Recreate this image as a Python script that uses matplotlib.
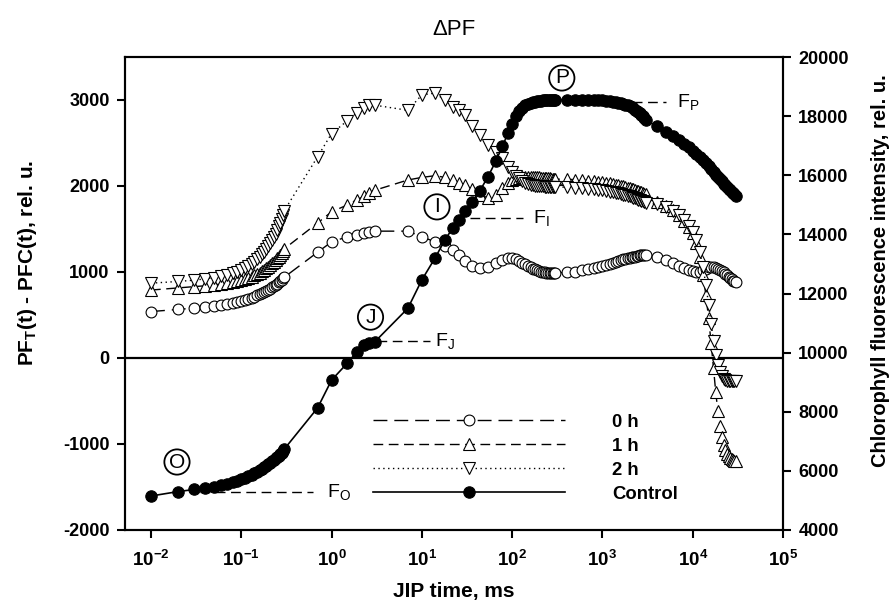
import numpy as np
import matplotlib.pyplot as plt
from matplotlib.lines import Line2D

plt.rcParams['font.family'] = ['Liberation Sans', 'DejaVu Sans']
plt.rcParams['mathtext.fontset'] = 'custom'
plt.rcParams['mathtext.rm'] = 'Liberation Sans'
plt.rcParams['mathtext.bf'] = 'Liberation Sans:bold'
plt.rcParams['mathtext.it'] = 'Liberation Sans:italic'

# JIP time points, ms
t_ms = [0.01, 0.02, 0.03, 0.04, 0.05, 0.06, 0.07, 0.08, 0.09, 0.10,
        0.11, 0.12, 0.13, 0.14, 0.15, 0.16, 0.17, 0.18, 0.19, 0.20,
        0.21, 0.22, 0.23, 0.24, 0.25, 0.26, 0.27, 0.28, 0.29, 0.30,
        0.7, 1.0, 1.5, 1.9, 2.3, 2.6, 3.0,
        7,
        10, 14, 18, 22, 26, 30, 36, 44, 54, 66, 78, 90,
        100, 110, 120, 130, 140, 150, 160, 170, 180, 190, 200,
        210, 220, 230, 240, 250, 260, 270, 280, 290, 300,
        400, 500, 600, 700, 800, 900, 1000, 1100, 1200, 1300, 1400,
        1500, 1600, 1700, 1800, 1900, 2000, 2100, 2200, 2300, 2400,
        2500, 2600, 2700, 2800, 2900, 3000,
        4000, 5000, 6000, 7000, 8000, 9000, 10000, 11000, 12000, 13000,
        14000, 15000, 16000, 17000, 18000, 19000, 20000, 21000, 22000,
        23000, 24000, 25000, 26000, 27000, 28000, 29000, 30000]

# delta PF (treated - control), rel. u.
dpf_0h = [540, 565, 580, 595, 605, 620, 630, 645, 655, 665,
          678, 690, 703, 715, 728, 740, 753, 766, 780, 793,
          807, 820, 835, 850, 865, 880, 895, 910, 925, 940,
          1230, 1350, 1410, 1430, 1450, 1465, 1475,
          1475,
          1410, 1350, 1300, 1255, 1200, 1130, 1070, 1045, 1060, 1100, 1140, 1160,
          1160, 1150, 1130, 1110, 1090, 1070, 1055, 1040, 1030, 1020, 1012,
          1005, 1000, 995, 992, 990, 990, 990, 990, 990, 990,
          995, 1000, 1020, 1030, 1045, 1055, 1068, 1080, 1095, 1108, 1120,
          1130, 1140, 1148, 1155, 1162, 1168, 1172, 1176, 1180, 1184,
          1188, 1192, 1196, 1200, 1200, 1198,
          1170, 1140, 1100, 1075, 1050, 1025, 1010, 1000, 1005, 1020,
          1040, 1055, 1060, 1058, 1050, 1040, 1025, 1010, 995,
          980, 960, 945, 930, 915, 900, 890, 880]

dpf_1h = [790, 815, 830, 840, 850, 860, 870, 880, 893, 905,
          918, 932, 947, 962, 978, 994, 1010, 1027, 1044, 1062,
          1080, 1099, 1118, 1138, 1158, 1178, 1199, 1220, 1245, 1270,
          1570, 1700, 1780, 1840, 1880, 1920, 1950,
          2070,
          2100, 2120, 2100, 2070, 2040, 2010, 1960, 1900, 1860, 1900, 1980, 2040,
          2070, 2085, 2095, 2100, 2100, 2100, 2100, 2100, 2100, 2100, 2100,
          2098, 2096, 2094, 2092, 2090, 2088, 2086, 2084, 2082, 2080,
          2078, 2074, 2068, 2062, 2056, 2050, 2044, 2038, 2031, 2024, 2017,
          2010, 2003, 1996, 1989, 1982, 1975, 1968, 1961, 1954, 1947,
          1940, 1933, 1926, 1919, 1912, 1905,
          1810, 1770, 1720, 1660, 1595, 1525, 1450, 1340, 1170, 970,
          730, 460, 170, -120, -400, -620, -790, -920, -1010,
          -1075, -1115, -1145, -1165, -1178, -1188, -1195, -1200]

dpf_2h = [870, 890, 905, 920, 935, 950, 968, 986, 1005, 1025,
          1047, 1070, 1095, 1120, 1147, 1175, 1205, 1235, 1267, 1300,
          1335, 1370, 1408, 1447, 1488, 1530, 1574, 1620, 1667, 1715,
          2340, 2610, 2760, 2850, 2910, 2940, 2940,
          2880,
          3060, 3080, 3000, 2920, 2880, 2830, 2700, 2590, 2480, 2400, 2320, 2220,
          2160, 2120, 2090, 2060, 2040, 2025, 2015, 2008, 2003, 2000, 1998,
          1996, 1995, 1994, 1993, 1992, 1991, 1990, 1990, 1990, 1990,
          1985, 1978, 1972, 1966, 1960, 1954, 1948, 1941, 1934, 1927, 1920,
          1913, 1906, 1899, 1892, 1885, 1878, 1871, 1864, 1857, 1850,
          1843, 1836, 1829, 1822, 1815, 1808,
          1790, 1760, 1715, 1660, 1600, 1535, 1465, 1370, 1230, 1060,
          850, 620, 400, 200, 40, -80, -160, -210, -240,
          -255, -262, -266, -268, -270, -271, -272, -273]

# control fluorescence transient, rel. u. (right axis)
fl_control = [5150, 5300, 5370, 5420, 5470, 5520, 5570, 5620, 5670, 5720,
              5770, 5820, 5870, 5920, 5970, 6020, 6070, 6120, 6170, 6220,
              6270, 6320, 6370, 6420, 6470, 6520, 6570, 6620, 6680, 6740,
              8130, 9070, 9650, 10020, 10260, 10330, 10360,
              11500,
              12460, 13200, 13810, 14220, 14500, 14780, 15100, 15480, 15950, 16480, 16980, 17420,
              17750, 18000, 18180, 18290, 18360, 18410, 18440, 18470, 18490, 18510, 18520,
              18525, 18530, 18535, 18540, 18545, 18550, 18552, 18554, 18556, 18558,
              18560, 18560, 18560, 18555, 18550, 18540, 18530, 18520, 18505, 18490, 18475,
              18460, 18440, 18415, 18390, 18360, 18330, 18295, 18260, 18220, 18180,
              18140, 18090, 18040, 17990, 17940, 17880,
              17650, 17470, 17320, 17190, 17070, 16950, 16830, 16720, 16610, 16500,
              16400, 16300, 16200, 16110, 16020, 15940, 15860, 15790, 15720,
              15660, 15600, 15550, 15500, 15450, 15400, 15350, 15300]

series_labels = ['0 h', '1 h', '2 h', 'Control']

x_ticks = [1e-2, 1e-1, 1e0, 1e1, 1e2, 1e3, 1e4, 1e5]
x_ticklabels = [r'$\mathbf{10^{-2}}$', r'$\mathbf{10^{-1}}$', r'$\mathbf{10^{0}}$',
                r'$\mathbf{10^{1}}$', r'$\mathbf{10^{2}}$', r'$\mathbf{10^{3}}$',
                r'$\mathbf{10^{4}}$', r'$\mathbf{10^{5}}$']
left_ticks = [-2000, -1000, 0, 1000, 2000, 3000]
right_ticks = [4000, 6000, 8000, 10000, 12000, 14000, 16000, 18000, 20000]

# OJIP step marks (right axis units)
steps = ['O', 'J', 'I', 'P']
step_t = [0.0194, 2.7, 14.7, 355]
step_v = [6300, 11200, 14930, 19290]
f_names = ['O', 'J', 'I', 'P']
f_line_t = [(0.035, 0.62), (3.2, 12.4), (34, 132), (1450, 5100)]
f_level = [5290, 10390, 14560, 18480]
f_text_t = [0.9, 14, 170, 6700]

fig = plt.figure(figsize=(8.92, 6.12), dpi=100)
ax = fig.add_axes([125 / 892, 82 / 612, 658 / 892, 473 / 612])
ax2 = ax.twinx()

l0, = ax.plot(t_ms, dpf_0h, color='k', lw=1.0, ls=(0, (10, 5)), marker='o', ms=7.8,
              mfc='white', mec='k', mew=0.8)
l1, = ax.plot(t_ms, dpf_1h, color='k', lw=1.0, ls=(0, (7, 4)), marker='^', ms=9,
              mfc='white', mec='k', mew=0.8)
l2, = ax.plot(t_ms, dpf_2h, color='k', lw=1.0, ls=(0, (1, 2.5)), marker='v', ms=9,
              mfc='white', mec='k', mew=0.8)
ax.axhline(0, color='k', lw=1.6, zorder=1)
lc, = ax2.plot(t_ms, fl_control, color='k', lw=1.2, ls='-', marker='o', ms=8.2,
               mfc='k', mec='k', mew=0.8)

ax.set_xscale('log')
ax.set_xlim(10 ** -2.288, 1e5)
ax.set_ylim(-2000, 3500)
ax2.set_ylim(4000, 20000)

ax.set_xticks(x_ticks)
ax.set_xticklabels(x_ticklabels, fontsize=13.5)
ax.xaxis.set_minor_locator(plt.NullLocator())
ax.set_yticks(left_ticks)
ax.set_yticklabels([str(v) for v in left_ticks], fontsize=13, fontweight='bold')
ax2.set_yticks(right_ticks)
ax2.set_yticklabels([str(v) for v in right_ticks], fontsize=13, fontweight='bold')

for a in (ax, ax2):
    for s in a.spines.values():
        s.set_linewidth(1.5)
    a.tick_params(direction='out', length=6, width=1.5, pad=5)
ax.tick_params(axis='x', top=False, pad=8)

ax.set_xlabel('JIP time, ms', fontsize=15, fontweight='bold')
ax.xaxis.set_label_coords(0.5, -0.11)
ax.set_ylabel(r'PF$_\mathbf{T}$(t) - PFC(t), rel. u.', fontsize=15, fontweight='bold')
ax.yaxis.set_label_coords(-0.13, 0.565)
ax2.set_ylabel('Chlorophyll fluorescence intensity, rel. u.', fontsize=14.5, fontweight='bold')
ax2.yaxis.set_label_coords(1.133, 0.548)
ax.set_title('\u0394PF', fontsize=16, pad=16)

for s, t, v in zip(steps, step_t, step_v):
    ax2.text(t, v, s, fontsize=15, ha='center', va='center',
             bbox=dict(boxstyle='circle,pad=0.15', fc='none', ec='k', lw=1.3))
for n, (ta, tb), v, tt in zip(f_names, f_line_t, f_level, f_text_t):
    ax2.plot([ta, tb], [v, v], color='k', lw=1.0, ls=(0, (7, 4)))
    ax2.text(tt, v, 'F$_\\mathrm{%s}$' % n, fontsize=14, ha='left', va='center')

ax2.legend([l0, l1, l2, lc], series_labels, loc='upper left', bbox_to_anchor=(0.377, 0.246),
           frameon=False, numpoints=1, handlelength=10.4, handletextpad=2.55,
           labelspacing=0.38, borderpad=0, borderaxespad=0,
           prop={'weight': 'bold', 'size': 13.3})

fig.savefig('out.png', dpi=100)
